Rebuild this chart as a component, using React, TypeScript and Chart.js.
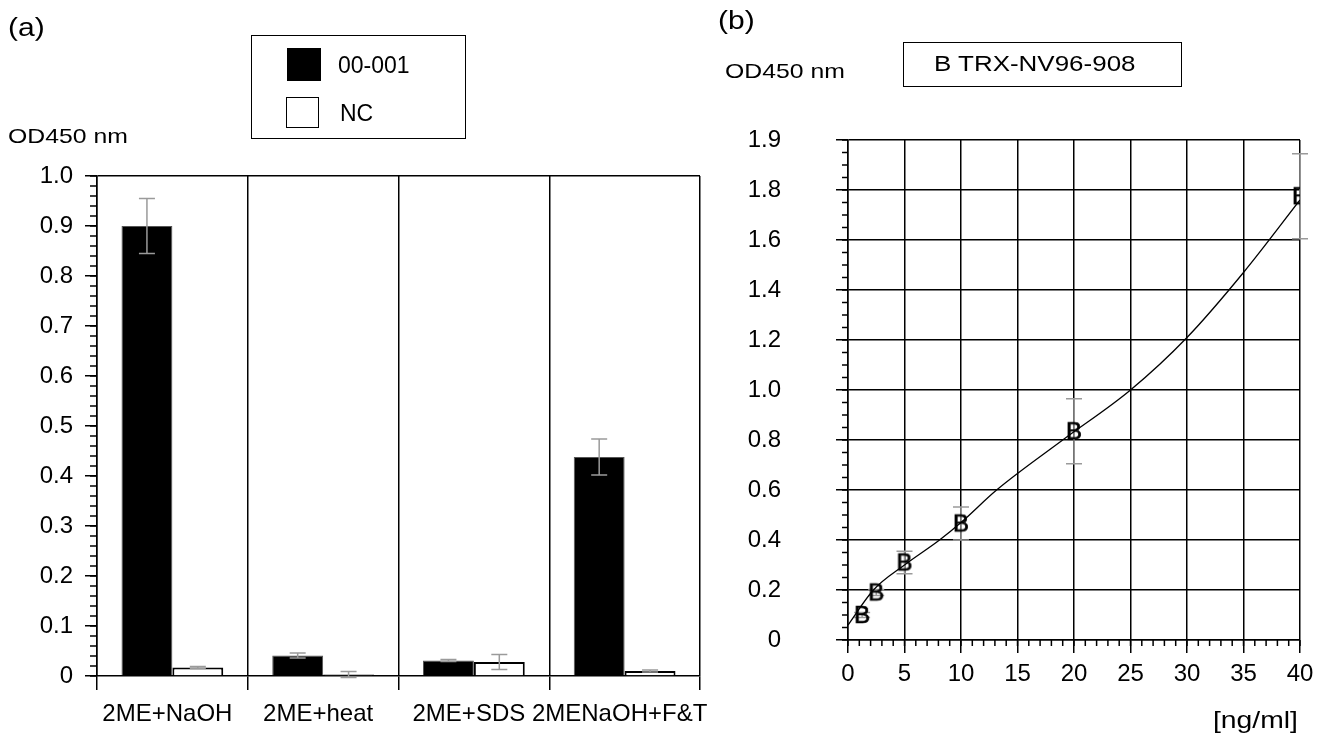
import React, { useEffect, useRef } from 'react';
import { Chart, registerables } from 'chart.js';
Chart.register(...registerables);

// ---------- Panel (a) data ----------
const categoriesA = ['2ME+NaOH', '2ME+heat', '2ME+SDS', '2MENaOH+F&T'];
const seriesNamesA = ['00-001', 'NC'];
const values00001 = [0.9, 0.041, 0.031, 0.438];
const errors00001 = [0.055, 0.005, 0.002, 0.036];
const valuesNC = [0.017, 0.003, 0.028, 0.01];
const errorsNC = [0.002, 0.006, 0.015, 0.002];
const yTickLabelsA = ['0', '0.1', '0.2', '0.3', '0.4', '0.5', '0.6', '0.7', '0.8', '0.9', '1.0'];

// ---------- Panel (b) data ----------
const seriesNameB = 'TRX-NV96-908';
const markerB = 'B';
const concentrationsB = [1.25, 2.5, 5, 10, 20, 40];
const odB = [0.1, 0.19, 0.31, 0.466, 0.835, 1.775];
const errB = [0.01, 0.012, 0.045, 0.066, 0.13, 0.17];
const curveX = [0, 2.25, 5, 8.1, 10, 13.15, 19, 25, 30, 35, 40];
const curveY = [0.06, 0.2, 0.3, 0.4, 0.47, 0.6, 0.8, 1.0, 1.21, 1.47, 1.76];
const yTickLabelsB = ['0', '0.2', '0.4', '0.6', '0.8', '1.0', '1.2', '1.4', '1.6', '1.8', '1.9'];
const xTickLabelsB = ['0', '5', '10', '15', '20', '25', '30', '35', '40'];

const FONT = "'Liberation Sans', Arial, Helvetica, sans-serif";

function makeErrorBars(phase: 'before' | 'after', capHalf: number) {
  const draw = (chart: any) => {
    const ctx = chart.ctx;
    const yScale = chart.scales.y;
    chart.data.datasets.forEach((ds: any, di: number) => {
      if (!ds.errors) return;
      const meta = chart.getDatasetMeta(di);
      meta.data.forEach((el: any, i: number) => {
        const raw = ds.data[i];
        const v = typeof raw === 'number' ? raw : raw.y;
        const e = ds.errors[i];
        const x = el.x;
        const yt = yScale.getPixelForValue(v + e);
        const yb = yScale.getPixelForValue(v - e);
        ctx.save();
        ctx.strokeStyle = '#9a9a9a';
        ctx.lineWidth = 1.5;
        ctx.beginPath();
        ctx.moveTo(x, yt);
        ctx.lineTo(x, yb);
        ctx.moveTo(x - capHalf, yt);
        ctx.lineTo(x + capHalf, yt);
        ctx.moveTo(x - capHalf, yb);
        ctx.lineTo(x + capHalf, yb);
        ctx.stroke();
        ctx.restore();
      });
    });
  };
  return phase === 'after'
    ? { id: 'errorBarsAfter', afterDatasetsDraw: draw }
    : { id: 'errorBarsBefore', beforeDatasetsDraw: draw };
}

function makeMinorTicks(specs: { axis: string; step: number; len: number }[]) {
  return {
    id: 'minorTicks',
    afterDraw(chart: any) {
      const ctx = chart.ctx;
      const area = chart.chartArea;
      ctx.save();
      ctx.strokeStyle = '#000';
      ctx.lineWidth = 1.5;
      specs.forEach((s) => {
        const scale = chart.scales[s.axis];
        const n = Math.round((scale.max - scale.min) / s.step);
        for (let k = 0; k <= n; k++) {
          const p = scale.getPixelForValue(scale.min + k * s.step);
          ctx.beginPath();
          if (s.axis === 'y') {
            ctx.moveTo(area.left, p);
            ctx.lineTo(area.left - s.len, p);
          } else {
            ctx.moveTo(p, area.bottom);
            ctx.lineTo(p, area.bottom + s.len);
          }
          ctx.stroke();
        }
      });
      ctx.restore();
    },
  };
}

function makeMarker(letter: string) {
  const c = document.createElement('canvas');
  c.width = 24;
  c.height = 24;
  const g = c.getContext('2d')!;
  g.font = `24px ${FONT}`;
  g.textAlign = 'center';
  g.textBaseline = 'middle';
  g.fillStyle = '#000';
  g.strokeStyle = '#000';
  g.lineWidth = 0.7;
  g.fillText(letter, 12, 13);
  g.strokeText(letter, 12, 13);
  return c;
}

export default function App() {
  const refA = useRef<HTMLCanvasElement>(null);
  const refB = useRef<HTMLCanvasElement>(null);

  useEffect(() => {
    const tickFont = { family: FONT, size: 24 };
    const chartA = new Chart(refA.current as HTMLCanvasElement, {
      type: 'bar',
      data: {
        labels: categoriesA,
        datasets: [
          {
            label: seriesNamesA[0],
            data: values00001,
            errors: errors00001,
            backgroundColor: '#000',
            borderColor: '#555',
            borderWidth: 1,
            categoryPercentage: 0.675,
            barPercentage: 1,
          } as any,
          {
            label: seriesNamesA[1],
            data: valuesNC,
            errors: errorsNC,
            backgroundColor: '#fff',
            borderColor: '#000',
            borderWidth: 2,
            categoryPercentage: 0.675,
            barPercentage: 1,
          } as any,
        ],
      },
      options: {
        animation: false,
        responsive: false,
        layout: { padding: { left: 0, right: 40, top: 176, bottom: 0 } },
        plugins: { legend: { display: false }, tooltip: { enabled: false } },
        scales: {
          x: {
            grid: { offset: true, color: '#000', lineWidth: 1.5, tickLength: 14, tickColor: '#000' },
            border: { color: '#000', width: 1.5 },
            ticks: { font: tickFont, color: '#000', padding: 10, maxRotation: 0, autoSkip: false, labelOffset: -5 },
            afterFit: (s: any) => {
              s.height = 60;
            },
          },
          y: {
            min: 0,
            max: 1,
            ticks: {
              stepSize: 0.1,
              font: tickFont,
              color: '#000',
              padding: 12,
              callback: (_v: any, i: number) => yTickLabelsA[i],
            },
            grid: {
              color: (c: any) => (c.tick && Math.abs(c.tick.value - 1) < 1e-9 ? '#000' : 'rgba(0,0,0,0)'),
              tickColor: '#000',
              tickLength: 12,
              lineWidth: 1.5,
            },
            border: { color: '#000', width: 1.5 },
            afterFit: (s: any) => {
              s.width = 97;
            },
          },
        },
      },
      plugins: [makeErrorBars('after', 8), makeMinorTicks([{ axis: 'y', step: 0.02, len: 7 }])],
    } as any);

    const marker = makeMarker(markerB);
    const chartB = new Chart(refB.current as HTMLCanvasElement, {
      type: 'scatter',
      data: {
        datasets: [
          {
            label: 'fit',
            data: curveX.map((x, i) => ({ x, y: curveY[i] })),
            showLine: true,
            borderColor: '#000',
            borderWidth: 1.3,
            pointRadius: 0,
            cubicInterpolationMode: 'monotone',
            fill: false,
          } as any,
          {
            label: seriesNameB,
            data: concentrationsB.map((x, i) => ({ x, y: odB[i] })),
            errors: errB,
            pointStyle: marker,
            pointRadius: 10,
            showLine: false,
          } as any,
        ],
      },
      options: {
        animation: false,
        responsive: false,
        layout: { padding: { left: 0, right: 26, top: 140, bottom: 0 } },
        plugins: { legend: { display: false }, tooltip: { enabled: false } },
        scales: {
          x: {
            type: 'linear',
            min: 0,
            max: 40,
            ticks: {
              stepSize: 5,
              font: tickFont,
              color: '#000',
              padding: 7,
              maxRotation: 0,
              callback: (_v: any, i: number) => xTickLabelsB[i],
            },
            grid: { color: '#000', lineWidth: 1.5, tickLength: 13 },
            border: { color: '#000', width: 1.5 },
            afterFit: (s: any) => {
              s.height = 96;
            },
          },
          y: {
            type: 'linear',
            min: 0,
            max: 2,
            ticks: {
              stepSize: 0.2,
              font: tickFont,
              color: '#000',
              padding: 55,
              callback: (_v: any, i: number) => yTickLabelsB[i],
            },
            grid: { color: '#000', lineWidth: 1.5, tickLength: 12 },
            border: { color: '#000', width: 1.5 },
            afterFit: (s: any) => {
              s.width = 128;
            },
          },
        },
      },
      plugins: [
        makeErrorBars('before', 8),
        makeMinorTicks([
          { axis: 'y', step: 0.05, len: 6 },
          { axis: 'x', step: 1, len: 6 },
        ]),
      ],
    } as any);

    return () => {
      chartA.destroy();
      chartB.destroy();
    };
  }, []);

  const txt = (left: number, cy: number, size: number, s: string, sx = 1) => (
    <div
      style={{
        position: 'absolute',
        left,
        top: cy,
        transform: `translateY(-50%) scaleX(${sx})`,
        transformOrigin: 'left center',
        fontSize: size,
        lineHeight: 1,
        whiteSpace: 'nowrap',
      }}
    >
      {s}
    </div>
  );

  return (
    <div
      style={{
        position: 'absolute',
        left: 0,
        top: 0,
        width: 1326,
        height: 736,
        background: '#fff',
        fontFamily: FONT,
        color: '#000',
        overflow: 'hidden',
      }}
    >
      <canvas ref={refA} width={740} height={736} style={{ position: 'absolute', left: 0, top: 0 }} />
      <canvas ref={refB} width={606} height={736} style={{ position: 'absolute', left: 720, top: 0 }} />

      {txt(8, 27, 25, '(a)', 1.2)}
      {txt(8, 135, 21, 'OD450 nm', 1.18)}
      <div
        style={{
          position: 'absolute',
          left: 251,
          top: 35,
          width: 215,
          height: 104,
          boxSizing: 'border-box',
          border: '1.5px solid #000',
        }}
      />
      <div style={{ position: 'absolute', left: 287, top: 48, width: 34, height: 33, background: '#000' }} />
      {txt(338, 65, 23, seriesNamesA[0])}
      <div
        style={{
          position: 'absolute',
          left: 286,
          top: 97,
          width: 33,
          height: 31,
          boxSizing: 'border-box',
          border: '1.5px solid #000',
          background: '#fff',
        }}
      />
      {txt(340, 113, 23, seriesNamesA[1])}

      {txt(718, 20, 25, '(b)', 1.2)}
      {txt(725, 70, 21, 'OD450 nm', 1.18)}
      <div
        style={{
          position: 'absolute',
          left: 903,
          top: 42,
          width: 279,
          height: 45,
          boxSizing: 'border-box',
          border: '1.5px solid #000',
        }}
      />
      {txt(934, 64, 22, `${markerB} ${seriesNameB}`, 1.18)}
      {txt(1213, 720, 24, '[ng/ml]', 1.18)}
    </div>
  );
}
